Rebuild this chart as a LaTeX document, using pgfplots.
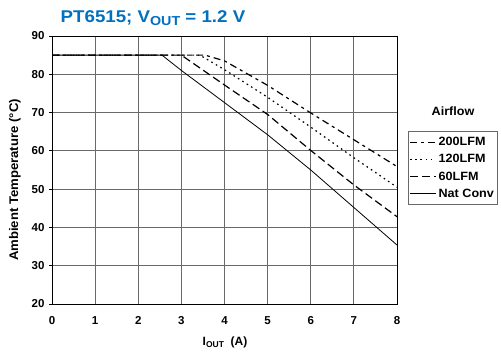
\documentclass[border=0pt]{standalone}
\usepackage{fontspec}
\setmainfont{Liberation Sans}
\newfontfamily\titlefont{Liberation Sans}[FakeStretch=1.1]
\newfontfamily\legfont{Liberation Sans}[FakeStretch=1.05]
\usepackage{pgfplots}
\pgfplotsset{compat=1.18}
\definecolor{titleblue}{RGB}{0,112,192}
\definecolor{gridgray}{RGB}{105,105,105}
\pgfplotstableread{
x y
0 85
3.55 85
4 83.5
5 77.1
6 69.9
7 62.9
8 55.9
}\lfmtwohundred
\pgfplotstableread{
x y
0 85
3.43 85
4 81.2
5 74.0
6 66.2
7 58.2
8 50.5
}\lfmonetwenty
\pgfplotstableread{
x y
0 85
3.0 85
4 77.2
5 69.5
6 60.1
7 51.1
8 42.8
}\lfmsixty
\pgfplotstableread{
x y
0 85
2.55 85
3 81.0
4 72.6
5 64.2
6 55.0
7 45.2
8 35.4
}\natconv
\begin{document}
\begin{tikzpicture}
\begin{axis}[
  name=ax,
  scale only axis,
  width=345pt, height=268pt,
  xmin=0, xmax=8, ymin=20, ymax=90,
  xtick={0,1,...,8}, ytick={20,30,...,90},
  grid=major,
  grid style={gridgray, line width=0.9pt},
  axis line style={black, line width=0.9pt},
  clip=false,
  tick align=outside,
  major tick length=3pt,
  xtick style={draw=none},
  ytick pos=left,
  ytick style={black, line width=0.8pt},
  /pgf/number format/assume math mode=true,
  tick label style={font=\fontsize{11.5}{13}\selectfont\bfseries},
  xticklabel style={yshift=-6pt},
  yticklabel style={xshift=-1pt},
  legend style={at={(1.032,0.645)}, anchor=north west, draw=gridgray, line width=0.8pt,
    font=\legfont\fontsize{12}{14}\selectfont\bfseries, inner xsep=1pt, inner ysep=4pt, row sep=3.2pt,
    cells={anchor=west}},
  legend image code/.code={\draw[#1] (0pt,0pt) -- (26pt,0pt);},
]
\addplot[black, line width=1.2pt, dash pattern=on 7pt off 4pt on 3pt off 4pt] table[x=x,y=y] {\lfmtwohundred};
\addplot[black, line width=1.2pt, dash pattern=on 1.6pt off 3.6pt] table[x=x,y=y] {\lfmonetwenty};
\addplot[black, line width=1.2pt, dash pattern=on 8pt off 4pt] table[x=x,y=y] {\lfmsixty};
\addplot[black, line width=0.8pt] table[x=x,y=y] {\natconv};
\legend{200LFM,120LFM,60LFM,Nat Conv}
\end{axis}
\node[font=\legfont\fontsize{12}{14}\selectfont\bfseries] at ([shift={(401pt,193pt)}]ax.south west) {Airflow};
\node[font=\fontsize{12}{14}\selectfont\bfseries] at ([shift={(173pt,-38pt)}]ax.south west) {I\raisebox{-2.5pt}{\fontsize{8.5}{9}\selectfont OUT}~~(A)};
\node[font=\legfont\fontsize{12.5}{14}\selectfont\bfseries, rotate=90] at ([shift={(-37pt,124pt)}]ax.south west) {Ambient Temperature (°C)};
\node[text=titleblue, font=\titlefont\fontsize{17}{20}\selectfont\bfseries] at ([shift={(101pt,18pt)}]ax.north west) {PT6515; V\raisebox{-2.5pt}{\fontsize{13}{14}\selectfont OUT} = 1.2 V};
\pgfresetboundingbox
\path ([shift={(-52pt,-54pt)}]ax.south west) rectangle ([shift={(104pt,36pt)}]ax.north east);
\end{tikzpicture}
\end{document}
